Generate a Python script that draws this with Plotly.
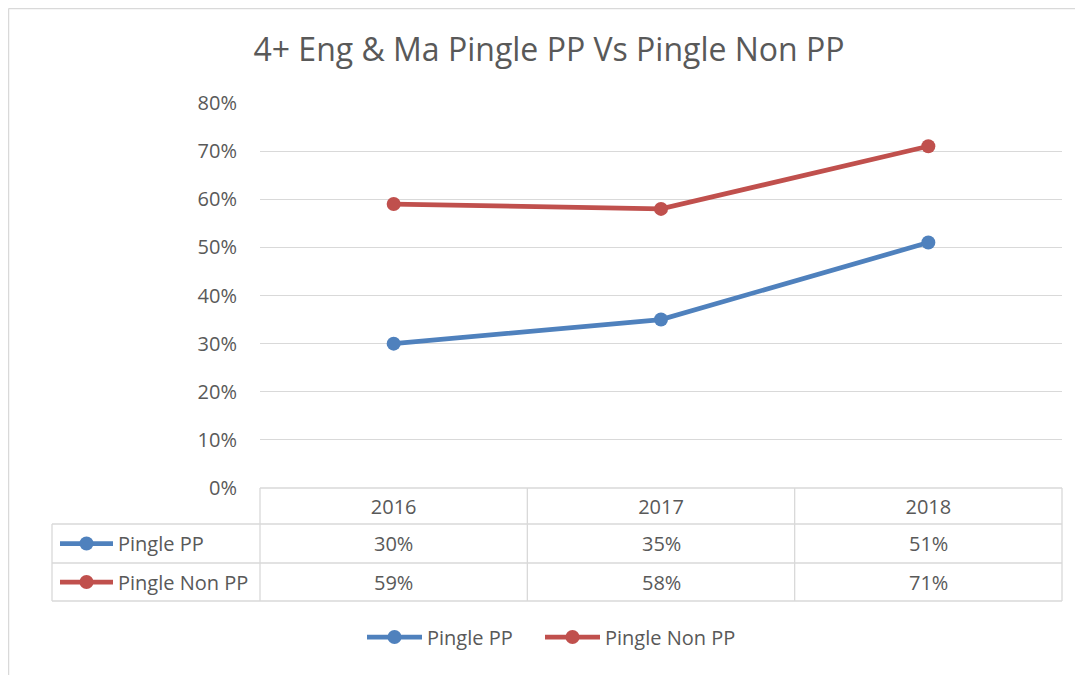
import plotly.graph_objects as go

years = ["2016", "2017", "2018"]
pingle_pp = [30, 35, 51]
pingle_non_pp = [59, 58, 71]
series_names = ["Pingle PP", "Pingle Non PP"]
series_values = [pingle_pp, pingle_non_pp]
colors = ["#4f81bd", "#c0504d"]
y_ticks = [0, 10, 20, 30, 40, 50, 60, 70, 80]
title_text = "4+ Eng & Ma Pingle PP Vs Pingle Non PP"

# page body has an 8px margin; work in screen coordinates and shift
OFF = 8
W, H = 1083 - OFF, 675 - OFF
FONT = "Open Sans"
TXT = "#595959"
GRID = "#d9d9d9"
FS = 20

def px(x):
    return (x - OFF) / W

def py(y):
    return 1 - (y - OFF) / H

x0, x1 = 260, 1062
y_top, y_bot = 103, 488

fig = go.Figure()
for name, vals, col in zip(series_names, series_values, colors):
    fig.add_trace(go.Scatter(
        x=years, y=vals, name=name, mode="lines+markers",
        line=dict(color=col, width=4.75),
        marker=dict(color=col, size=14),
        cliponaxis=False, showlegend=False,
    ))

fig.update_layout(
    width=W, height=H,
    margin=dict(l=0, r=0, t=0, b=0, autoexpand=False),
    paper_bgcolor="white", plot_bgcolor="white",
    font=dict(family=FONT, color=TXT, size=FS),
    title=dict(text=title_text, x=px(549), xanchor="center", y=py(50), yanchor="middle",
               font=dict(family=FONT, size=32, color=TXT)),
    xaxis=dict(domain=[px(x0), px(x1)], type="category", range=[-0.5, 2.5],
               showgrid=False, zeroline=False, showline=False,
               ticks="outside", ticklen=0, tickcolor="white",
               ticklabelstandoff=1, automargin=False,
               tickfont=dict(size=FS, color=TXT, family=FONT)),
    yaxis=dict(domain=[py(y_bot), py(y_top)], range=[0, 80],
               tickvals=y_ticks, ticktext=[f"{v}%" for v in y_ticks],
               showgrid=True, gridcolor=GRID, gridwidth=1,
               zeroline=False, showline=False, automargin=False,
               ticks="outside", ticklen=18, tickcolor="white",
               tickfont=dict(size=FS, color=TXT, family=FONT)),
    showlegend=False,
)

shapes = []
annotations = []
# outer chart border
shapes.append(dict(type="line", xref="paper", yref="paper", x0=px(8.5), x1=1.01, y0=py(8.5), y1=py(8.5),
                   line=dict(color=GRID, width=1.5)))
shapes.append(dict(type="line", xref="paper", yref="paper", x0=px(8.5), x1=px(8.5), y0=py(8.5), y1=-0.01,
                   line=dict(color=GRID, width=1.5)))

# data table
hdr_top, r1_top, r2_top, tbl_bot = 488, 524, 563, 601
tbl_left = 52
lc = dict(color=GRID, width=1.3)
shapes.append(dict(type="line", xref="paper", yref="paper", x0=px(x0), x1=px(x1), y0=py(hdr_top), y1=py(hdr_top), line=lc))
for yy in [r1_top, r2_top, tbl_bot]:
    shapes.append(dict(type="line", xref="paper", yref="paper", x0=px(tbl_left), x1=px(x1), y0=py(yy), y1=py(yy), line=lc))
shapes.append(dict(type="line", xref="paper", yref="paper", x0=px(tbl_left), x1=px(tbl_left), y0=py(r1_top), y1=py(tbl_bot), line=lc))
n = len(years)
for i in range(n + 1):
    xx = x0 + (x1 - x0) * i / n
    shapes.append(dict(type="line", xref="paper", yref="paper", x0=px(xx), x1=px(xx), y0=py(hdr_top), y1=py(tbl_bot), line=lc))


def legend_key(xl, xr, ym, col, name):
    shapes.append(dict(type="line", xref="paper", yref="paper", x0=px(xl), x1=px(xr), y0=py(ym), y1=py(ym),
                       line=dict(color=col, width=4.75)))
    xm = (xl + xr) / 2
    shapes.append(dict(type="circle", xref="paper", yref="paper", x0=px(xm - 7), x1=px(xm + 7),
                       y0=py(ym - 7), y1=py(ym + 7),
                       fillcolor=col, line=dict(color=col, width=0)))
    annotations.append(dict(xref="paper", yref="paper", x=px(xr + 3), y=py(ym), xanchor="left", yanchor="middle",
                            text=name, showarrow=False, font=dict(size=FS, color=TXT, family=FONT)))


row_mids = [(r1_top + r2_top) / 2, (r2_top + tbl_bot) / 2]
for r, (name, vals, col) in enumerate(zip(series_names, series_values, colors)):
    ym = row_mids[r]
    legend_key(60, 113, ym, col, name)
    for i, v in enumerate(vals):
        xc = x0 + (x1 - x0) * (i + 0.5) / n
        annotations.append(dict(xref="paper", yref="paper", x=px(xc), y=py(ym), xanchor="center", yanchor="middle",
                                text=f"{v}%", showarrow=False, font=dict(size=FS, color=TXT, family=FONT)))

# bottom legend
legend_x = [(367, 422), (545, 600)]
for (xl, xr), name, col in zip(legend_x, series_names, colors):
    legend_key(xl, xr, 637, col, name)

fig.update_layout(shapes=shapes, annotations=annotations)
fig.write_html("out.html")
